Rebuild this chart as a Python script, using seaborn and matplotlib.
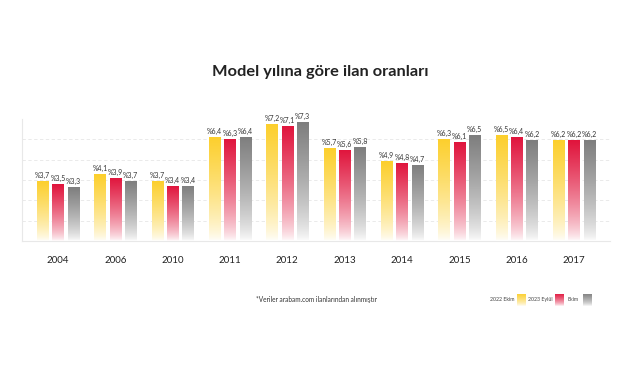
import numpy as np
import pandas as pd
import matplotlib
matplotlib.use("Agg")
import matplotlib.pyplot as plt
import seaborn as sns
from matplotlib.colors import LinearSegmentedColormap
from matplotlib.patches import Rectangle

years = ["2004", "2006", "2010", "2011", "2012", "2013", "2014", "2015", "2016", "2017"]
ekim_2022 = [3.7, 4.1, 3.7, 6.4, 7.2, 5.7, 4.9, 6.3, 6.5, 6.2]
eylul_2023 = [3.5, 3.9, 3.4, 6.3, 7.1, 5.6, 4.8, 6.1, 6.4, 6.2]
ekim_2023 = [3.3, 3.7, 3.4, 6.4, 7.3, 5.8, 4.7, 6.5, 6.2, 6.2]
series_names = ["2022 Ekim", "2023 Eylül", "Ekim"]
colors = ["#FCCF2C", "#E0143C", "#7E7E7E"]

df = pd.DataFrame({
    "year": years * 3,
    "value": ekim_2022 + eylul_2023 + ekim_2023,
    "series": [s for s in series_names for _ in years],
})

sns.set_style("white")
plt.rcParams["font.family"] = ["Lato", "DejaVu Sans"]

fig = plt.figure(figsize=(6.41, 3.84), dpi=100)
ax = fig.add_axes([0.034, 0.372, 0.918, 0.318])

sns.barplot(data=df, x="year", y="value", hue="series", palette=colors,
            width=0.8, legend=False, ax=ax, zorder=3)

ax.set_xlim(-0.63, 9.63)
ax.set_ylim(0, 7.5)

# gradient fill: full colour at top fading to white at the base
grad = np.linspace(0, 1, 256).reshape(-1, 1) ** 0.7
shrink = 0.74
for cont, col in zip(ax.containers, colors):
    cmap = LinearSegmentedColormap.from_list("g", ["#ffffff", col])
    for bar, val in zip(cont.patches, cont.datavalues):
        cx = bar.get_x() + bar.get_width() / 2
        w = bar.get_width() * shrink
        x, h = cx - w / 2, bar.get_height()
        bar.set_visible(False)
        im = ax.imshow(grad, extent=[x, x + w, 0, h], origin="lower",
                       cmap=cmap, aspect="auto", zorder=3, vmin=0, vmax=1)
        clip = Rectangle((x, 0), w, h, transform=ax.transData)
        im.set_clip_path(clip)
        ax.text(cx, h + 0.12, "%" + f"{val:.1f}".replace(".", ","),
                ha="center", va="bottom", fontsize=5, color="#333333")

ax.set_xlim(-0.63, 9.63)
ax.set_ylim(0, 7.5)
ax.set_aspect("auto")
ax.set_xlabel("")
ax.set_ylabel("")
ax.set_yticks([1.25, 2.5, 3.75, 5.0, 6.25])
ax.set_yticklabels([])
ax.tick_params(axis="y", length=0)
ax.tick_params(axis="x", length=0, pad=11, labelsize=7, labelcolor="#222222")
ax.grid(axis="y", linestyle=(0, (4, 3)), color="#e6e6e6", linewidth=0.6, zorder=0)
for side in ["top", "right"]:
    ax.spines[side].set_visible(False)
for side in ["left", "bottom"]:
    ax.spines[side].set_color("#e8e8e8")
    ax.spines[side].set_linewidth(0.8)

fig.text(0.5, 0.812, "Model yılına göre ilan oranları", ha="center", va="center",
         fontsize=11.8, fontweight="bold", color="#222222")
fig.text(0.4, 0.219, "*Veriler arabam.com ilanlarından alınmıştır", ha="left",
         va="center", fontsize=4.7, color="#333333")

# legend
leg_items = [(0.764, 0.807), (0.824, 0.866), (0.886, 0.909)]
for (tx, sx), name, col in zip(leg_items, series_names, colors):
    fig.text(tx, 0.219, name, ha="left", va="center", fontsize=3.8, color="#444444")
    cax = fig.add_axes([sx, 0.202, 0.013, 0.032])
    cmap = LinearSegmentedColormap.from_list("g", ["#ffffff", col])
    cax.imshow(grad, origin="lower", cmap=cmap, aspect="auto", vmin=0, vmax=1)
    cax.axis("off")

fig.savefig("out.png", dpi=100, facecolor="white")
